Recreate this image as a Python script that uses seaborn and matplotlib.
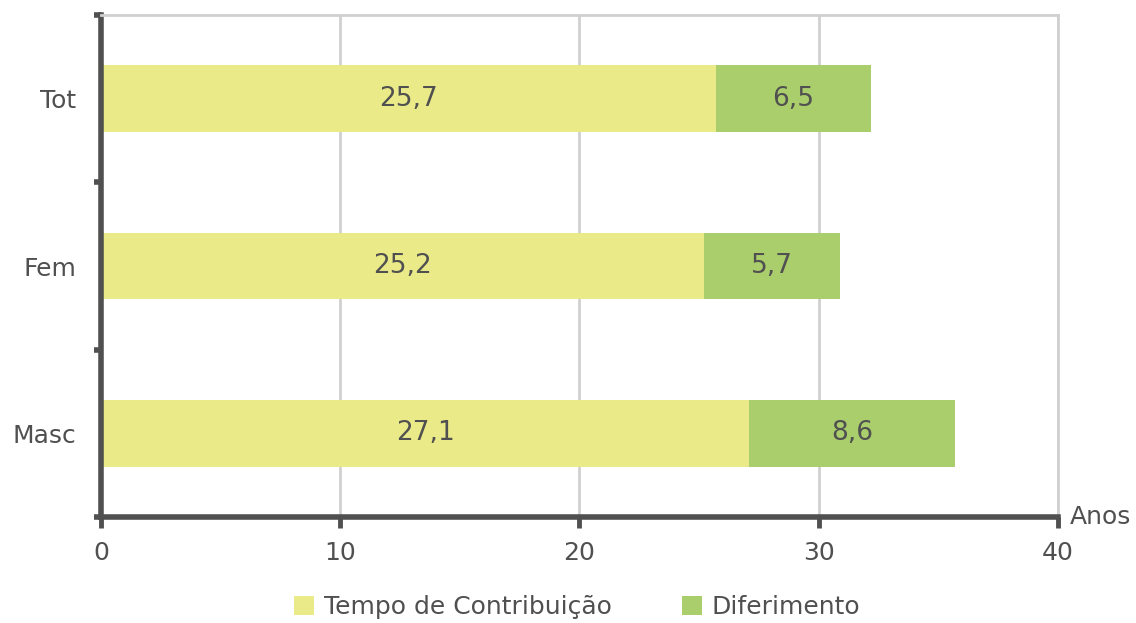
import matplotlib
matplotlib.use("Agg")
import matplotlib.pyplot as plt
import seaborn as sns
import pandas as pd
from matplotlib.patches import Patch

categories = ["Tot", "Fem", "Masc"]
tempo = [25.7, 25.2, 27.1]
diferimento = [6.5, 5.7, 8.6]
series_names = ["Tempo de Contribuição", "Diferimento"]
xticks = [0, 10, 20, 30, 40]

c_tempo = "#EAEB88"
c_dif = "#A9CE6B"
txt = "#505050"
axc = "#505050"
gridc = "#D0D0D0"
fs = 18

sns.set_theme(style="white")
plt.rcParams["font.family"] = ["DejaVu Sans"]

df = pd.DataFrame({"cat": categories, "tempo": tempo, "dif": diferimento})
df["total"] = df["tempo"] + df["dif"]

fig = plt.figure(figsize=(11.36, 6.23), dpi=100)
ax = fig.add_axes([0.0889, 0.170, 0.8424, 0.806])

sns.barplot(data=df, y="cat", x="total", orient="h", color=c_dif, width=0.4,
            saturation=1, ax=ax, linewidth=0, order=categories)
sns.barplot(data=df, y="cat", x="tempo", orient="h", color=c_tempo, width=0.4,
            saturation=1, ax=ax, linewidth=0, order=categories)

for i, (t, d) in enumerate(zip(tempo, diferimento)):
    ax.text(t / 2, i, f"{t:.1f}".replace(".", ","), ha="center", va="center",
            fontsize=fs + 1, color=txt)
    ax.text(t + d / 2, i, f"{d:.1f}".replace(".", ","), ha="center", va="center",
            fontsize=fs + 1, color=txt)

ax.set_xlim(0, 40)
ax.set_ylim(len(categories) - 0.5, -0.5)
ax.set_xticks(xticks)
ax.set_xticklabels([str(v) for v in xticks])
ax.set_xlabel("")
ax.set_ylabel("")

ax.grid(axis="x", color=gridc, linewidth=2)
ax.set_axisbelow(True)

ax.set_yticks(range(len(categories)))
ax.set_yticklabels(categories)
ax.set_yticks([i - 0.5 for i in range(len(categories) + 1)], minor=True)
ax.tick_params(axis="y", which="major", left=True, length=0, pad=18, labelsize=fs, labelcolor=txt)
ax.tick_params(axis="y", which="minor", left=True, length=5, width=4, color=axc, direction="out")
ax.tick_params(axis="x", which="major", bottom=True, length=8, width=3.5, color=axc, direction="out",
               pad=9, labelsize=fs, labelcolor=txt)

for s in ["left", "bottom"]:
    ax.spines[s].set_color(axc)
    ax.spines[s].set_linewidth(4)
for s in ["top", "right"]:
    ax.spines[s].set_color(gridc)
    ax.spines[s].set_linewidth(2)

ax.text(1.012, 0, "Anos", transform=ax.transAxes, ha="left", va="center",
        fontsize=fs, color=txt)

handles = [Patch(facecolor=c_tempo, edgecolor="none"), Patch(facecolor=c_dif, edgecolor="none")]
fig.legend(handles, series_names, loc="lower center", bbox_to_anchor=(0.508, -0.03), ncol=2,
           frameon=False, fontsize=fs, handlelength=0.8, handleheight=0.8,
           handletextpad=0.4, columnspacing=2.8, labelcolor=txt)

fig.savefig("out.png", dpi=100)
